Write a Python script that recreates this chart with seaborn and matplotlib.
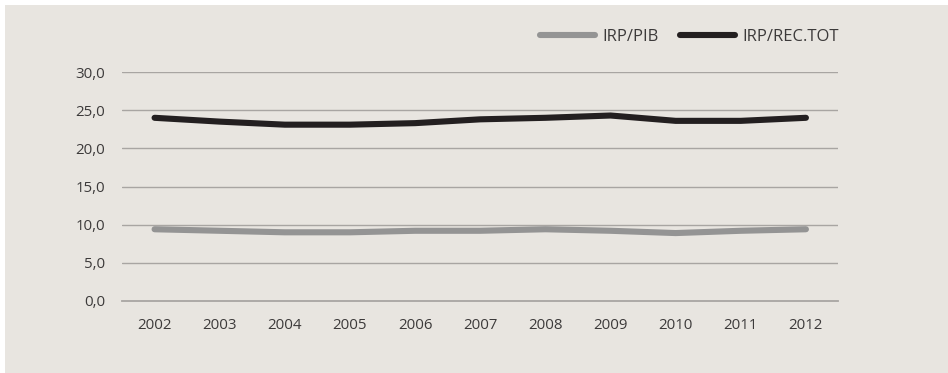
import matplotlib
matplotlib.use("Agg")
import matplotlib.pyplot as plt
from matplotlib.patches import Rectangle
from matplotlib.ticker import FixedLocator, FuncFormatter
import seaborn as sns
import pandas as pd

years = ["2002", "2003", "2004", "2005", "2006", "2007", "2008", "2009", "2010", "2011", "2012"]
irp_pib = [9.4, 9.2, 9.0, 9.0, 9.2, 9.2, 9.4, 9.2, 8.9, 9.2, 9.4]
irp_rec_tot = [24.0, 23.5, 23.1, 23.1, 23.3, 23.8, 24.0, 24.3, 23.6, 23.6, 24.0]
series_names = ["IRP/PIB", "IRP/REC.TOT"]
y_ticks = [0, 5, 10, 15, 20, 25, 30]

df = pd.DataFrame({
    "ano": list(range(len(years))) * 2,
    "valor": irp_pib + irp_rec_tot,
    "serie": [series_names[0]] * len(years) + [series_names[1]] * len(years),
})

sns.set_theme(style="white")
plt.rcParams["font.family"] = ["Open Sans", "DejaVu Sans"]

bg = "#e8e5e0"
grid_c = "#a8a5a2"
text_c = "#3c3a3a"
palette = {series_names[0]: "#949494", series_names[1]: "#231f20"}

W, H = 948, 373
fig = plt.figure(figsize=(W / 100, H / 100), dpi=100)
fig.patch.set_facecolor("white")
fig.patches.append(Rectangle((5 / W, 0), 1, 1 - 5 / H, transform=fig.transFigure,
                             facecolor=bg, edgecolor="none", zorder=-10))

ax = fig.add_axes([122 / W, (H - 301) / H, (838.5 - 122) / W, (301 - 72) / H])
ax.set_facecolor("none")

sns.lineplot(data=df, x="ano", y="valor", hue="serie", palette=palette,
             linewidth=4.4, ax=ax, legend=False, zorder=3,
             solid_capstyle="round", solid_joinstyle="round")

ax.set_xlim(-0.5, len(years) - 0.5)
ax.set_ylim(0, 30)
ax.yaxis.set_major_locator(FixedLocator(y_ticks))
ax.yaxis.set_major_formatter(FuncFormatter(lambda v, p: f"{v:.1f}".replace(".", ",")))
ax.set_xticks(range(len(years)))
ax.set_xticklabels(years)
ax.set_xticks([i - 0.5 for i in range(len(years) + 1)], minor=True)

for y in y_ticks[1:]:
    ax.axhline(y, color=grid_c, linewidth=1.0, zorder=1)

for s in ["top", "right", "left"]:
    ax.spines[s].set_visible(False)
ax.spines["bottom"].set_color(grid_c)
ax.spines["bottom"].set_linewidth(1.3)

ax.tick_params(axis="x", which="major", length=0, pad=12, labelsize=10.8, labelcolor=text_c)
ax.tick_params(axis="x", which="minor", length=4, width=1.3, color=grid_c, direction="out")
ax.tick_params(axis="y", length=0, pad=12, labelsize=10.8, labelcolor=text_c)
for lbl in ax.get_yticklabels():
    lbl.set_horizontalalignment("right")
ax.set_xlabel("")
ax.set_ylabel("")

handles = [plt.Line2D([], [], color=palette[n], linewidth=4.4, solid_capstyle="round")
           for n in series_names]
fig.legend(handles, series_names, loc="center right", bbox_to_anchor=(854 / W, 1 - 37 / H),
           ncol=2, frameon=False, handlelength=3.3, handletextpad=0.45, columnspacing=1.3,
           fontsize=12, labelcolor=text_c)

fig.savefig("out.png", dpi=100, facecolor=fig.get_facecolor())
